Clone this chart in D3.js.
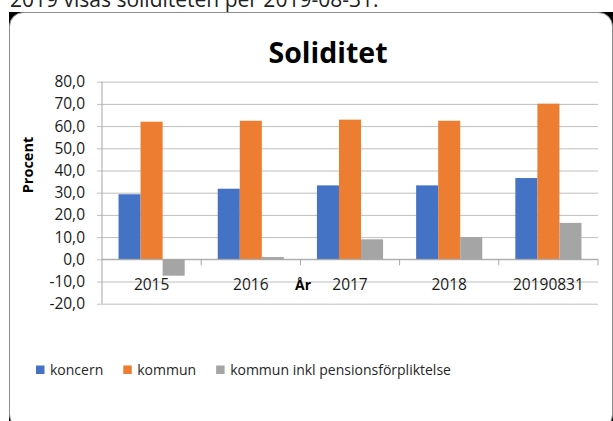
<!DOCTYPE html>
<html>
<head>
<meta charset="utf-8">
<script src="https://cdn.jsdelivr.net/npm/d3@7"></script>
<style>
  html, body { margin: 0; padding: 0; background: #fff; }
  svg { display: block; font-family: "Open Sans", sans-serif; }
</style>
</head>
<body>
<div id="chart"></div>
<script>
// <<< Data >>>
const categories = ["2015", "2016", "2017", "2018", "20190831"];
const seriesNames = ["koncern", "kommun", "kommun inkl pensionsförpliktelse"];
const koncern = [29.3, 31.8, 33.3, 33.3, 36.6];
const kommun = [62.0, 62.4, 62.9, 62.4, 70.1];
const kommunInkl = [-7.4, 1.0, 9.0, 10.0, 16.4];
const yTicks = [-20, -10, 0, 10, 20, 30, 40, 50, 60, 70, 80];
const seriesColors = ["#4472c4", "#ed7d31", "#a5a5a5"];

const seriesValues = [koncern, kommun, kommunInkl];

// <<< Main >>>
var W = 613, H = 421;
var plot = {left: 102, right: 598, top: 81.7, bottom: 303.7};

const svg = d3.select("#chart")
  .append("svg")
  .attr("width", W)
  .attr("height", H);

// text of the document above the chart (clipped by the window)
svg.append("text")
  .attr("x", 10)
  .attr("y", 7)
  .attr("font-size", 21)
  .attr("fill", "#222")
  .text("2019 visas soliditeten per 2019-08-31.");

// chart frame: black behind rounded corners, then white rounded box
svg.append("rect")
  .attr("x", 9).attr("y", 12)
  .attr("width", 604).attr("height", 414)
  .attr("fill", "#000");
svg.append("rect")
  .attr("x", 9.5).attr("y", 12.5)
  .attr("width", 603).attr("height", 416)
  .attr("rx", 14).attr("ry", 14)
  .attr("fill", "#fff")
  .attr("stroke", "#8c8c8c")
  .attr("stroke-width", 1);

// Title
svg.append("text")
  .attr("x", 328)
  .attr("y", 62.5)
  .attr("text-anchor", "middle")
  .attr("font-size", 28.5)
  .attr("font-weight", "bold")
  .attr("fill", "#000")
  .text("Soliditet");

// Scales
var x = d3.scaleBand()
  .domain(categories)
  .range([plot.left, plot.right])
  .padding(0);

var xSeries = d3.scaleBand()
  .domain(d3.range(seriesNames.length))
  .range([0, x.bandwidth()])
  .paddingInner(0)
  .paddingOuter(0.75);

var y = d3.scaleLinear()
  .domain([d3.min(yTicks), d3.max(yTicks)])
  .range([plot.bottom, plot.top]);

// Gridlines + y labels
var yAxis = svg.append("g")
  .attr("transform", "translate(" + plot.left + ",0)")
  .call(d3.axisLeft(y)
    .tickValues(yTicks)
    .tickSize(-(plot.right - plot.left))
    .tickPadding(17)
    .tickFormat(function(d){ return d3.format(".1f")(d).replace(".", ",").replace("−", "-"); }));
yAxis.select(".domain").remove();
yAxis.selectAll(".tick line")
  .attr("x1", 5)
  .attr("stroke", "#bfbfbf");
yAxis.selectAll(".tick line")
  .attr("x1", -5);
yAxis.selectAll("text")
  .attr("font-family", "Open Sans")
  .attr("font-size", 15.5)
  .attr("fill", "#1a1a1a");

// left axis line
svg.append("line")
  .attr("x1", plot.left).attr("x2", plot.left)
  .attr("y1", y(d3.max(yTicks))).attr("y2", y(d3.min(yTicks)))
  .attr("stroke", "#a6a6a6");

// Bars
var groups = svg.append("g")
  .selectAll("g")
  .data(categories)
  .enter()
  .append("g")
  .attr("transform", function(d){ return "translate(" + x(d) + ",0)"; });

groups.selectAll("rect")
  .data(function(d, i){ return seriesValues.map(function(s, k){ return {k: k, v: s[i]}; }); })
  .enter()
  .append("rect")
  .attr("x", function(d){ return xSeries(d.k); })
  .attr("width", xSeries.bandwidth())
  .attr("y", function(d){ return y(Math.max(0, d.v)); })
  .attr("height", function(d){ return Math.abs(y(d.v) - y(0)); })
  .attr("fill", function(d){ return seriesColors[d.k]; });

// Category axis at zero
svg.append("line")
  .attr("x1", plot.left).attr("x2", plot.right)
  .attr("y1", y(0)).attr("y2", y(0))
  .attr("stroke", "#a6a6a6");

svg.append("g")
  .selectAll("line")
  .data(categories)
  .enter()
  .append("line")
  .attr("x1", function(d){ return x(d) + x.bandwidth(); })
  .attr("x2", function(d){ return x(d) + x.bandwidth(); })
  .attr("y1", y(0)).attr("y2", y(0) + 6)
  .attr("stroke", "#a6a6a6");

var xAxis = svg.append("g")
  .attr("transform", "translate(0," + y(0) + ")")
  .call(d3.axisBottom(x).tickSize(0).tickPadding(20));
xAxis.select(".domain").remove();
xAxis.selectAll("text")
  .attr("font-family", "Open Sans")
  .attr("font-size", 15.5)
  .attr("fill", "#1a1a1a");

// Axis titles
svg.append("text")
  .attr("x", 303)
  .attr("y", 290)
  .attr("text-anchor", "middle")
  .attr("font-size", 14)
  .attr("font-weight", "bold")
  .attr("fill", "#000")
  .text("År");

svg.append("text")
  .attr("transform", "translate(33,165) rotate(-90)")
  .attr("text-anchor", "middle")
  .attr("font-size", 14.5)
  .attr("font-weight", "bold")
  .attr("fill", "#000")
  .text("Procent");

// Legend
var legend = svg.append("g").attr("transform", "translate(36,370)");
var lx = 0;
seriesNames.forEach(function(name, k){
  legend.append("rect")
    .attr("x", lx).attr("y", -4.5)
    .attr("width", 8.5).attr("height", 8.5)
    .attr("fill", seriesColors[k]);
  var t = legend.append("text")
    .attr("x", lx + 14)
    .attr("y", 5)
    .attr("font-size", 14)
    .attr("fill", "#262626")
    .text(name);
  lx += 14 + t.node().getComputedTextLength() + 20;
});
</script>
</body>
</html>
